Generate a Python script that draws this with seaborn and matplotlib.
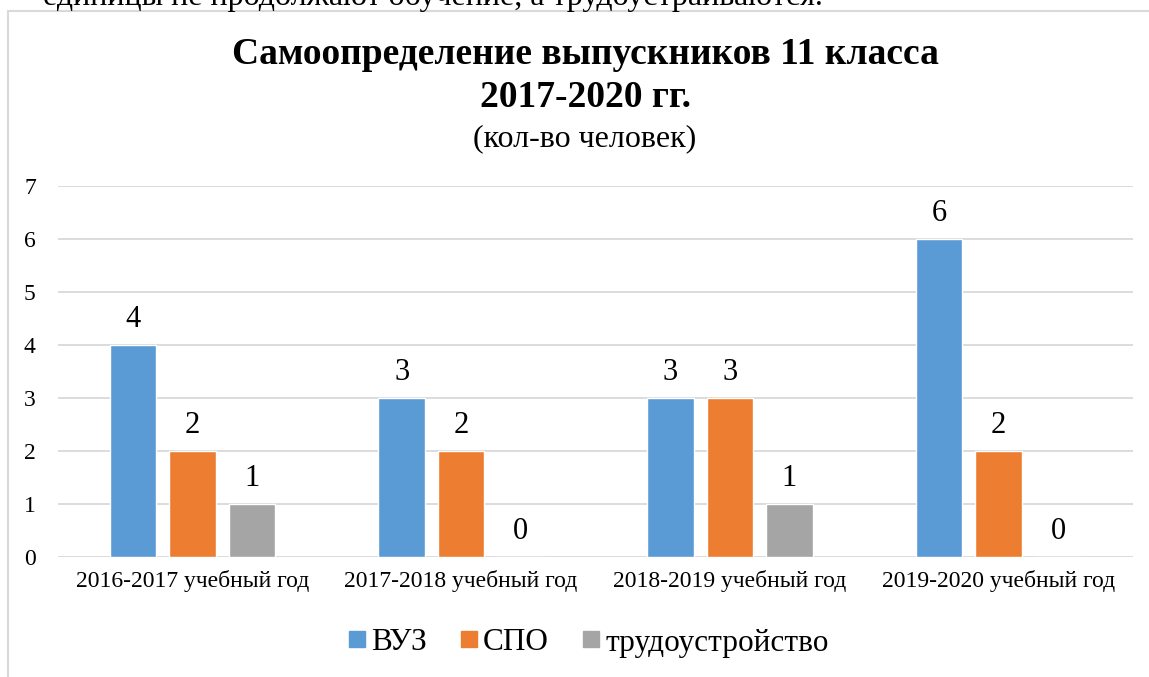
import matplotlib
matplotlib.use('Agg')
import matplotlib.pyplot as plt
from matplotlib.lines import Line2D
import seaborn as sns
import pandas as pd

# ── Data ──────────────────────────────────────────────────────────────────────
YEARS = ['2016-2017 учебный год', '2017-2018 учебный год',
         '2018-2019 учебный год', '2019-2020 учебный год']
SERIES = ['ВУЗ', 'СПО', 'трудоустройство']
VUZ = [4, 3, 3, 6]
SPO = [2, 2, 3, 2]
WORK = [1, 0, 1, 0]

COLORS = ['#5B9BD5', '#ED7D31', '#A5A5A5']

df = pd.DataFrame({'year': YEARS * 3,
                   'group': [s for s in SERIES for _ in YEARS],
                   'count': VUZ + SPO + WORK})

sns.set_theme(style='white')
plt.rcParams['font.family'] = ['Liberation Serif', 'DejaVu Serif']
plt.rcParams['text.color'] = 'black'
plt.rcParams['xtick.color'] = 'black'
plt.rcParams['ytick.color'] = 'black'

W, H = 1149, 677
fig = plt.figure(figsize=(W / 100, H / 100), dpi=100)
ax = fig.add_axes([58 / W, 1 - 557 / H, (1133 - 58) / W, (557 - 186) / H])

sns.barplot(data=df, x='year', y='count', hue='group', hue_order=SERIES,
            palette=COLORS, width=0.664, gap=0.22, saturation=1,
            legend=False, ax=ax)

for cont in ax.containers:
    ax.bar_label(cont, labels=[f'{int(v)}' for v in cont.datavalues],
                 padding=8, fontsize=22)

ax.set_ylim(0, 7)
ax.set_xlim(-0.5, 3.5)
ax.set_yticks(range(8))
ax.yaxis.grid(True, color='#D9D9D9', linewidth=1.3)
ax.set_axisbelow(True)
for side in ['top', 'right', 'left', 'bottom']:
    ax.spines[side].set_visible(False)
ax.tick_params(axis='both', length=0)
ax.tick_params(axis='y', labelsize=17, pad=16)
ax.tick_params(axis='x', labelsize=17, pad=9)
ax.set_xlabel('')
ax.set_ylabel('')

# ── Titles ────────────────────────────────────────────────────────────────────
fig.text(585 / W, 1 - 64 / H, 'Самоопределение выпускников 11 класса',
         ha='center', va='baseline', fontsize=27, fontweight='bold')
fig.text(585 / W, 1 - 107 / H, '2017-2020 гг.',
         ha='center', va='baseline', fontsize=27, fontweight='bold')
fig.text(585 / W, 1 - 146 / H, '(кол-во человек)',
         ha='center', va='baseline', fontsize=23)

# cut-off document text above the chart frame
fig.text(43 / W, 1 - 5 / H, 'единицы не продолжают обучение, а трудоустраиваются.',
         ha='left', va='baseline', fontsize=23)

# chart frame (only top and left edges visible)
fig.add_artist(Line2D([8 / W, 1], [1 - 11 / H] * 2, color='#D9D9D9', lw=1.5))
fig.add_artist(Line2D([8 / W] * 2, [0, 1 - 11 / H], color='#D9D9D9', lw=1.5))

# ── Legend ────────────────────────────────────────────────────────────────────
handles = [plt.Rectangle((0, 0), 1, 1, color=c) for c in COLORS]
fig.legend(handles, SERIES, loc='center', bbox_to_anchor=(589 / W, 1 - 643 / H),
           ncol=3, frameon=False, fontsize=22.5, handlelength=0.5, handleheight=0.4,
           handletextpad=0.2, columnspacing=1.1)

fig.savefig('out.png', dpi=100, facecolor='white')
